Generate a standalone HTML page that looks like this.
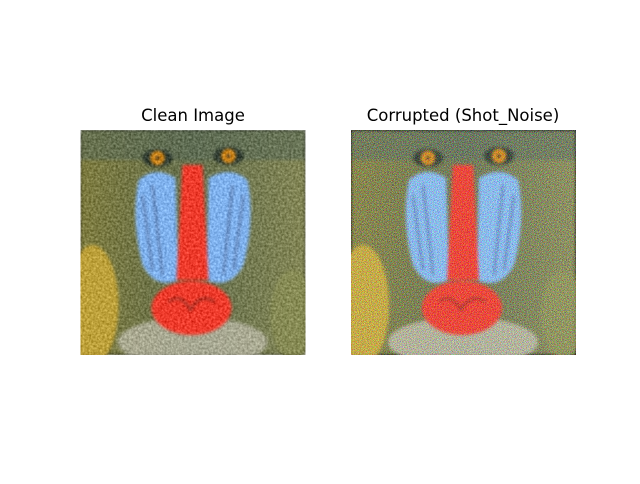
<!DOCTYPE html>
<html><head><meta charset="utf-8"><style>
body{margin:0;background:#fff;width:640px;height:480px;overflow:hidden;font-family:"DejaVu Sans","Liberation Sans",sans-serif}
</style></head><body>
<svg width="640" height="480" viewBox="0 0 640 480">
<defs>
<clipPath id="clip"><rect width="225" height="225"/></clipPath>
<filter id="fur" x="0" y="0" width="100%" height="100%" color-interpolation-filters="sRGB">
<feGaussianBlur in="SourceGraphic" stdDeviation="1.5" result="bl"/>
<feTurbulence type="fractalNoise" baseFrequency="0.45" numOctaves="2" seed="3" result="n"/>
<feColorMatrix in="n" type="matrix" values="1 0 0 0 0  1 0 0 0 0  1 0 0 0 0  0 0 0 0 1" result="g"/>
<feComposite in="bl" in2="g" operator="arithmetic" k1="0" k2="1" k3="0.4" k4="-0.2"/>
</filter>
<filter id="shot" x="0" y="0" width="100%" height="100%" color-interpolation-filters="sRGB">
<feGaussianBlur in="SourceGraphic" stdDeviation="1.5" result="bl"/>
<feTurbulence type="fractalNoise" baseFrequency="1.4" numOctaves="1" seed="7" result="n"/>
<feColorMatrix in="n" type="matrix" values="1 0 0 0 0  0 1 0 0 0  0 0 1 0 0  0 0 0 0 1" result="nc"/>
<feComposite in="bl" in2="nc" operator="arithmetic" k1="0" k2="0.95" k3="1.5" k4="-0.68"/>
</filter>
<linearGradient id="bg" x1="0" y1="0" x2="1" y2="0">
<stop offset="0" stop-color="#7e7c40"/><stop offset="0.5" stop-color="#66704e"/><stop offset="1" stop-color="#838656"/>
</linearGradient>
<g id="mandrill">
<rect width="225" height="225" fill="url(#bg)"/>
<rect width="225" height="30" fill="#5a6a58" opacity="0.6"/>
<ellipse cx="12" cy="175" rx="26" ry="60" fill="#c9a83a" opacity="0.85"/>
<ellipse cx="212" cy="185" rx="22" ry="45" fill="#8a8e55" opacity="0.7"/>
<ellipse cx="112" cy="212" rx="75" ry="25" fill="#b8b6a4" opacity="0.8"/>
<path d="M58 50 Q75 35 95 48 L98 150 Q75 160 62 135 Q50 90 58 50 Z" fill="#80b2ee"/>
<path d="M167 50 Q150 35 128 48 L126 150 Q150 160 163 135 Q175 90 167 50 Z" fill="#80b2ee"/>
<path d="M62 65 L72 140 M72 55 L82 145 M163 65 L153 140 M152 55 L143 145" stroke="#4a5f8a" stroke-width="1.5" fill="none"/>
<path d="M102 35 L122 35 L128 150 L96 150 Z" fill="#ee3b2c"/>
<ellipse cx="111" cy="178" rx="40" ry="27" fill="#ee3b2c"/>
<path d="M88 172 Q100 162 110 180 Q120 162 134 172" stroke="#8a2a20" stroke-width="2" fill="none"/>
<ellipse cx="77" cy="28" rx="15" ry="9" fill="#2e3a30"/>
<ellipse cx="148" cy="26" rx="15" ry="9" fill="#2e3a30"/>
<circle cx="77" cy="28" r="7" fill="#e0901a"/><circle cx="77" cy="28" r="2" fill="#222"/>
<circle cx="148" cy="26" r="7" fill="#e0901a"/><circle cx="148" cy="26" r="2" fill="#222"/>
</g>
</defs>
<text x="193" y="121" text-anchor="middle" font-size="16.5" fill="#000">Clean Image</text>
<text x="463" y="121" text-anchor="middle" font-size="16.5" fill="#000">Corrupted (Shot_Noise)</text>
<g transform="translate(80.5,130)" clip-path="url(#clip)"><use href="#mandrill" filter="url(#fur)"/></g>
<g transform="translate(351,130)" clip-path="url(#clip)"><use href="#mandrill" filter="url(#shot)"/></g>
</svg>
</body></html>
